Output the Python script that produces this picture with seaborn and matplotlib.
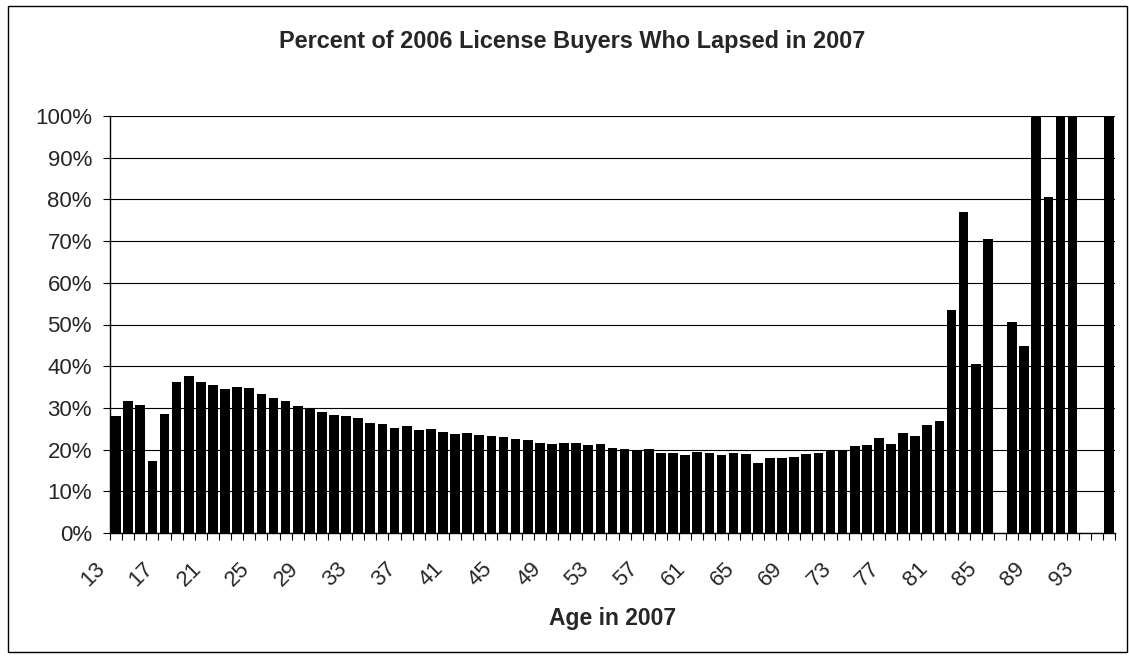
import numpy as np
import pandas as pd
import matplotlib
matplotlib.use("Agg")
import matplotlib.pyplot as plt
from matplotlib.patches import Rectangle
from matplotlib.transforms import ScaledTranslation
import seaborn as sns

# ---- data ----
ages = list(range(13, 96))
lapse_pct = [
    28.0, 31.7, 30.8, 17.2, 28.6, 36.2, 37.7, 36.3, 35.6, 34.6,   # 13-22
    34.9, 34.8, 33.3, 32.3, 31.6, 30.5, 29.8, 28.9, 28.4, 28.1,   # 23-32
    27.5, 26.4, 26.1, 25.2, 25.7, 24.7, 24.9, 24.2, 23.7, 24.0,   # 33-42
    23.5, 23.2, 23.1, 22.6, 22.2, 21.7, 21.3, 21.7, 21.7, 21.2,   # 43-52
    21.3, 20.5, 20.1, 19.7, 20.1, 19.3, 19.1, 18.6, 19.5, 19.2,   # 53-62
    18.7, 19.2, 18.9, 16.9, 18.1, 18.0, 18.2, 18.9, 19.2, 19.7,   # 63-72
    19.6, 20.8, 21.2, 22.9, 21.4, 24.0, 23.2, 25.8, 26.9, 53.5,   # 73-82
    76.9, 40.5, 70.6, 0.0, 50.6, 44.9, 100.0, 80.6, 100.0, 100.0, # 83-92
    0.0, 0.0, 100.0,                                              # 93-95
]
tick_ages = list(range(13, 94, 4))
y_ticks = list(range(0, 101, 10))
title = "Percent of 2006 License Buyers Who Lapsed in 2007"
x_label = "Age in 2007"

df = pd.DataFrame({"age": [str(a) for a in ages], "pct": lapse_pct})

# ---- figure ----
sns.set_style("white")
plt.rcParams["font.family"] = ["Liberation Sans", "DejaVu Sans"]

W, H = 1129, 656
fig = plt.figure(figsize=(W / 100, H / 100), dpi=100)
ax = fig.add_axes([110 / W, 1 - 533 / H, (1115 - 110) / W, (533 - 116) / H])

sns.barplot(data=df, x="age", y="pct", order=[str(a) for a in ages],
            color="black", saturation=1, width=0.8, errorbar=None, ax=ax)
for p in ax.patches:
    p.set_edgecolor("none")

ax.set_xlim(-0.5, len(ages) - 0.5)
ax.set_ylim(0, 100)
ax.set_axisbelow(True)
ax.yaxis.grid(True, color="black", linewidth=0.8)
ax.xaxis.grid(False)

for s in ["top", "right"]:
    ax.spines[s].set_visible(False)
for s in ["left", "bottom"]:
    ax.spines[s].set_color("black")
    ax.spines[s].set_linewidth(1.0)

ax.set_yticks(y_ticks)
ax.set_yticklabels([f"{v}%" for v in y_ticks], fontsize=16)
ax.tick_params(axis="y", direction="out", length=5, width=0.8, color="black", pad=8, left=True)

pos = [ages.index(a) for a in tick_ages]
ax.set_xticks(pos)
ax.set_xticklabels([str(a) for a in tick_ages], fontsize=16, rotation=45,
                   ha="right", va="top")
ax.set_xticks(np.arange(-0.5, len(ages), 1), minor=True)
ax.tick_params(axis="x", which="major", length=0, pad=18)
ax.tick_params(axis="x", which="minor", direction="out", length=5, width=0.8,
               color="black", bottom=True)
off = ScaledTranslation(-7 / 100, 0, fig.dpi_scale_trans)
for lab in ax.get_xticklabels():
    lab.set_transform(lab.get_transform() + off)

ax.set_xlabel(x_label, fontsize=16.5, fontweight="bold", va="baseline")
ax.xaxis.set_label_coords(0.5, (533 - 625) / 417)
ax.set_ylabel("")

fig.text(572 / W, 1 - 48 / H, title, ha="center", va="baseline",
         fontsize=16.9, fontweight="bold")

fig.add_artist(Rectangle((8 / W, 1 - 652 / H), (1127 - 8) / W, (652 - 6) / H,
                         transform=fig.transFigure, fill=False,
                         edgecolor="black", linewidth=1.0))

fig.savefig("out.png", dpi=100, facecolor="white")
